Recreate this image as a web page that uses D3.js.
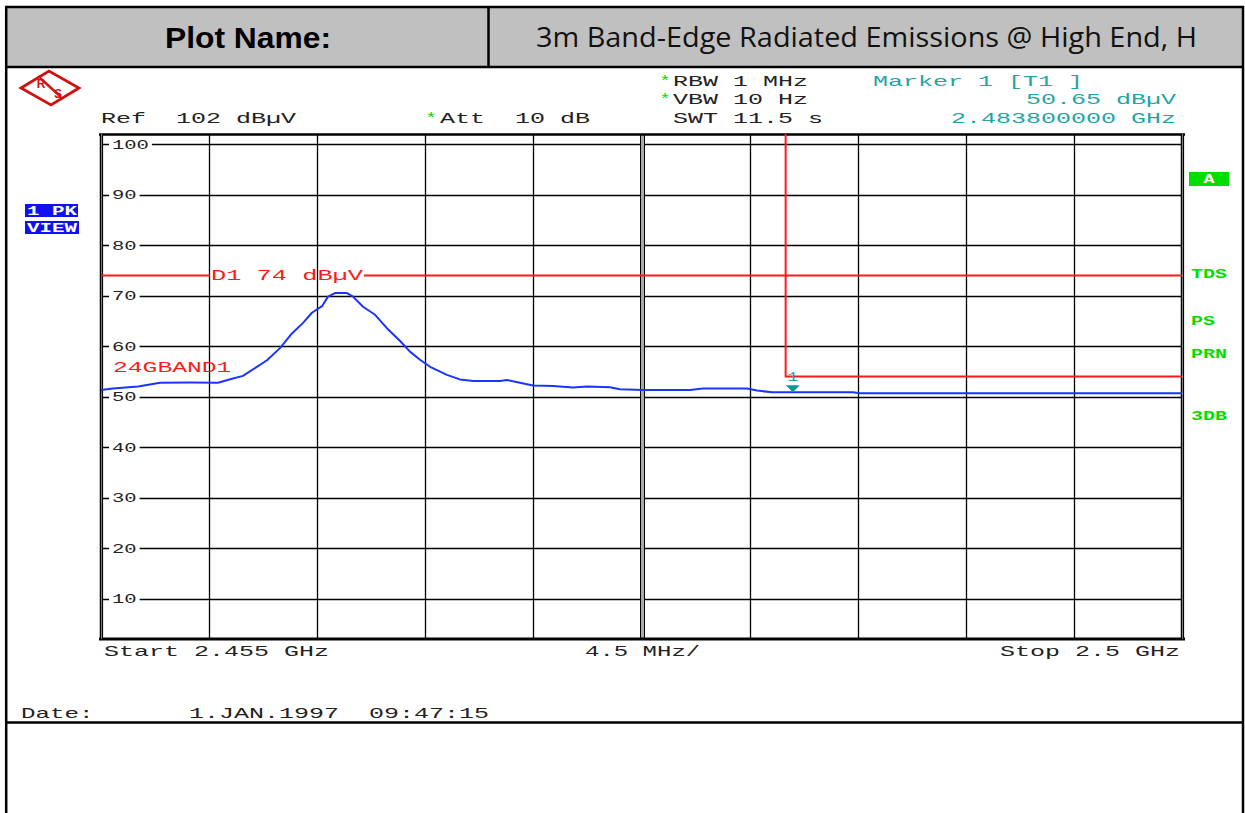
<!DOCTYPE html>
<html><head><meta charset="utf-8">
<script src="https://cdn.jsdelivr.net/npm/d3@7"></script>
<style>html,body{margin:0;padding:0;background:#fff;}svg{display:block;}</style>
</head><body>
<svg id="c" width="1245" height="813"></svg>
<script>
// ---- data ----
const traceFreqGHz = [2.45500,2.45550,2.45654,2.45746,2.45870,2.45987,2.46049,2.46091,2.46149,2.46191,2.46245,2.46295,2.46341,2.46378,2.46420,2.46445,2.46474,2.46524,2.46549,2.46591,2.46641,2.46691,2.46745,2.46786,2.46828,2.46870,2.46940,2.46994,2.47049,2.47161,2.47190,2.47244,2.47298,2.47382,2.47465,2.47523,2.47619,2.47660,2.47756,2.47952,2.48006,2.48189,2.48231,2.48293,2.48630,2.48660,2.50000];
const traceLevel    = [51.3,51.6,52.0,52.75,52.8,52.75,53.6,54.1,55.9,57.2,59.6,62.5,64.6,66.6,67.9,69.8,70.5,70.5,69.8,67.8,66.2,63.5,61.0,58.9,57.3,55.9,54.3,53.4,53.1,53.1,53.3,52.75,52.2,52.1,51.8,52.0,51.85,51.45,51.3,51.3,51.6,51.6,51.2,50.85,50.85,50.65,50.65];
const yTickLabels = [100,90,80,70,60,50,40,30,20,10];
const refLevel = 102, bottomLevel = 2;
const startGHz = 2.455, stopGHz = 2.5, divisions = 10;
const displayLineLevel = 74;
const limitFreqGHz = 2.4835, limitLevel = 54;
const markerFreqGHz = 2.4838, markerLevel = 50.65;
const rightLabels = ["TDS","PS","PRN","3DB"];

// ---- setup ----
const svg = d3.select("#c");
const x = d3.scaleLinear().domain([startGHz, stopGHz]).range([101, 1182]);
const y = d3.scaleLinear().domain([bottomLevel, refLevel]).range([639, 134]);

const RED = "#ff1a1a", TEAL = "#1fa5a5", GREEN = "#00dd00", BLUE = "#1a35ff";
const NB = "\u00A0";

function mono(str, px, py, o = {}) {
  const s = str.replace(/ /g, NB);
  const t = svg.append("text").attr("x", px).attr("y", py)
    .attr("font-family", o.family || "'Liberation Mono', 'DejaVu Sans Mono', monospace")
    .attr("font-size", o.size || 15)
    .attr("font-weight", o.weight || "normal")
    .attr("fill", o.fill || "#222")
    .attr("text-anchor", o.anchor || "start")
    .attr("textLength", s.length * (o.pitch || 15))
    .attr("lengthAdjust", "spacingAndGlyphs")
    .text(s);
  return t;
}

// ---- page frame / header ----
svg.append("rect").attr("x", 7).attr("y", 8).attr("width", 1235).attr("height", 58).attr("fill", "#c0c0c0");
svg.append("line").attr("x1", 5).attr("x2", 1244).attr("y1", 7).attr("y2", 7).attr("stroke", "#000").attr("stroke-width", 2.5);
svg.append("line").attr("x1", 5).attr("x2", 1244).attr("y1", 67).attr("y2", 67).attr("stroke", "#000").attr("stroke-width", 2.5);
svg.append("line").attr("x1", 5).attr("x2", 1244).attr("y1", 722.5).attr("y2", 722.5).attr("stroke", "#000").attr("stroke-width", 2.5);
svg.append("line").attr("x1", 6.2).attr("x2", 6.2).attr("y1", 6).attr("y2", 813).attr("stroke", "#000").attr("stroke-width", 2.5);
svg.append("line").attr("x1", 1243).attr("x2", 1243).attr("y1", 6).attr("y2", 813).attr("stroke", "#000").attr("stroke-width", 2.5);
svg.append("line").attr("x1", 488.5).attr("x2", 488.5).attr("y1", 7).attr("y2", 67).attr("stroke", "#000").attr("stroke-width", 2.5);

svg.append("text").attr("x", 165).attr("y", 48).attr("font-family", "'Liberation Sans', Arial, sans-serif")
  .attr("font-weight", "bold").attr("font-size", 30).attr("fill", "#000")
  .attr("textLength", 166).attr("lengthAdjust", "spacingAndGlyphs").text("Plot Name:");
svg.append("text").attr("x", 536).attr("y", 47).attr("font-family", "'Open Sans', 'DejaVu Sans', sans-serif")
  .attr("font-size", 27).attr("fill", "#111")
  .attr("textLength", 661).attr("lengthAdjust", "spacingAndGlyphs").text("3m Band-Edge Radiated Emissions @ High End, H");

// ---- R&S logo ----
const logo = svg.append("g");
logo.append("polygon").attr("points", "21,88 49,71 79,88 51,105").attr("fill", "#fff").attr("stroke", "#d01010").attr("stroke-width", 2.8).attr("stroke-linejoin", "miter");
[-2.4, 0, 2.4].forEach(o => {
  logo.append("line").attr("x1", 40 + o * 0.6).attr("y1", 78 + o).attr("x2", 61 + o * 0.6).attr("y2", 97 + o)
    .attr("stroke", "#d01010").attr("stroke-width", 1.1);
});
logo.append("text").attr("x", 41).attr("y", 88).attr("font-family", "'Liberation Sans', Arial").attr("font-weight", "bold")
  .attr("font-size", 12).attr("fill", "#d01010").attr("text-anchor", "middle").text("R");
logo.append("text").attr("x", 58).attr("y", 98).attr("font-family", "'Liberation Sans', Arial").attr("font-weight", "bold")
  .attr("font-size", 12).attr("fill", "#d01010").attr("text-anchor", "middle").text("S");

// ---- top info text ----
mono("Ref  102 dBµV", 101, 123);
mono("*", 425, 123, { fill: GREEN, pitch: 12 });
mono("Att  10 dB", 440, 123);
mono("*", 659, 86, { fill: GREEN, pitch: 12 });
mono("RBW 1 MHz", 673, 86);
mono("*", 659, 104, { fill: GREEN, pitch: 12 });
mono("VBW 10 Hz", 673, 104);
mono("SWT 11.5 s", 673, 123);
mono("Marker 1 [T1 ]", 873, 86, { fill: TEAL });
mono("50.65 dBµV", 1176, 104, { fill: TEAL, anchor: "end" });
mono("2.483800000 GHz", 1176, 123, { fill: TEAL, anchor: "end" });

// ---- left boxes ----
svg.append("rect").attr("x", 25).attr("y", 204).attr("width", 53).attr("height", 13).attr("fill", "#1010f0");
svg.append("rect").attr("x", 25).attr("y", 221).attr("width", 54).attr("height", 13).attr("fill", "#1010f0");
mono("1 PK", 27, 215, { fill: "#fff", size: 12, weight: "bold", pitch: 12.5 });
mono("VIEW", 27, 232, { fill: "#fff", size: 12, weight: "bold", pitch: 12.5 });

// ---- right side labels ----
svg.append("rect").attr("x", 1189).attr("y", 172).attr("width", 40).attr("height", 14).attr("fill", GREEN);
mono("A", 1209, 183, { fill: "#fff", size: 12, weight: "bold", pitch: 11, anchor: "middle" });
const rlY = [278, 325, 358, 420];
rightLabels.forEach((l, i) => mono(l, 1191, rlY[i], { fill: GREEN, size: 12, weight: "bold", pitch: 12 }));

// ---- grid ----
const vTicks = d3.range(divisions + 1).map(i => startGHz + i * (stopGHz - startGHz) / divisions);
const grid = svg.append("g");
grid.selectAll("line.h").data(yTickLabels).join("line").attr("class", "h")
  .attr("x1", x.range()[0]).attr("x2", x.range()[1])
  .attr("y1", d => Math.round(y(d)) + 0.5).attr("y2", d => Math.round(y(d)) + 0.5)
  .attr("stroke", "#000").attr("stroke-width", 1.3);
grid.selectAll("line.v").data(vTicks.slice(1, -1)).join("line").attr("class", "v")
  .attr("x1", d => Math.round(x(d)) + 0.5).attr("x2", d => Math.round(x(d)) + 0.5)
  .attr("y1", y.range()[1]).attr("y2", y.range()[0])
  .attr("stroke", d => (Math.abs(d - (startGHz + stopGHz) / 2) < 1e-9) ? "#a8a8a8" : "#000")
  .attr("stroke-width", d => (Math.abs(d - (startGHz + stopGHz) / 2) < 1e-9) ? 4 : 1.3);
const cx = Math.round(x((startGHz + stopGHz) / 2)) + 0.5;
[-2, 2].forEach(o => grid.append("line").attr("x1", cx + o).attr("x2", cx + o).attr("y1", y.range()[1]).attr("y2", y.range()[0])
  .attr("stroke", "#000").attr("stroke-width", 1));

// tick labels with white gap
yTickLabels.forEach(v => {
  const ty = y(v);
  const w = String(v).length * 12.3;
  svg.append("rect").attr("x", 109).attr("y", ty - 4).attr("width", w + 6).attr("height", 8).attr("fill", "#fff");
  mono(String(v), 112, ty + 4.5, { size: 12, pitch: 12.3, fill: "#222" });
});

// frame
svg.append("line").attr("x1", 99).attr("x2", 1185).attr("y1", 134.5).attr("y2", 134.5).attr("stroke", "#000").attr("stroke-width", 2.5);
svg.append("line").attr("x1", 99).attr("x2", 1185).attr("y1", 639).attr("y2", 639).attr("stroke", "#000").attr("stroke-width", 3);
[[100.5, 102.5], [1181.5, 1183.5]].forEach(([a, b]) => {
  svg.append("rect").attr("x", a).attr("y", 134).attr("width", b - a).attr("height", 505).attr("fill", "#bbb");
  svg.append("line").attr("x1", a).attr("x2", a).attr("y1", 134).attr("y2", 640).attr("stroke", "#000").attr("stroke-width", 1.5);
  svg.append("line").attr("x1", b).attr("x2", b).attr("y1", 134).attr("y2", 640).attr("stroke", "#000").attr("stroke-width", 1.2);
});

// ---- display line D1 ----
const dY = y(displayLineLevel);
svg.append("line").attr("x1", x.range()[0]).attr("x2", 210).attr("y1", dY).attr("y2", dY).attr("stroke", RED).attr("stroke-width", 2);
svg.append("line").attr("x1", 364).attr("x2", x.range()[1]).attr("y1", dY).attr("y2", dY).attr("stroke", RED).attr("stroke-width", 2);
mono("D1 74 dBµV", 211, dY + 5, { fill: RED, pitch: 15.2 });

// ---- limit line ----
svg.append("path").attr("d", d3.line()([[x(limitFreqGHz), y.range()[1]], [x(limitFreqGHz), y(limitLevel)], [x.range()[1], y(limitLevel)]]))
  .attr("fill", "none").attr("stroke", RED).attr("stroke-width", 2);
mono("24GBAND1", 113, 372, { fill: RED, pitch: 14.8 });

// ---- trace ----
const traceData = traceFreqGHz.map((f, i) => [f, traceLevel[i]]);
svg.append("path").datum(traceData)
  .attr("d", d3.line().x(d => x(d[0])).y(d => y(d[1])))
  .attr("fill", "none").attr("stroke", BLUE).attr("stroke-width", 2).attr("stroke-linejoin", "round");

// ---- marker ----
const mx = x(markerFreqGHz), my = y(markerLevel);
svg.append("path").attr("d", `M${mx - 7},${my - 8} L${mx + 7},${my - 8} L${mx},${my - 1} Z`).attr("fill", "#0a9a9a");
mono("1", mx, my - 12, { fill: TEAL, size: 12, pitch: 11, anchor: "middle" });

// ---- bottom text ----
mono("Start 2.455 GHz", 104, 656);
mono("4.5 MHz/", 585, 656, { pitch: 14.4 });
mono("Stop 2.5 GHz", 1180, 656, { anchor: "end" });
mono("Date:", 21, 718, { pitch: 14.5 });
mono("1.JAN.1997  09:47:15", 189, 718);
</script>
</body></html>
